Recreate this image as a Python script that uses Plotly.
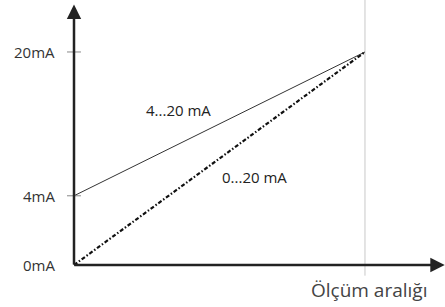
import plotly.graph_objects as go
import numpy as np

# --- data (schematic) ---
range_pct = [0, 100]                 # measurement range (x, %)
tick_labels = ["0mA", "4mA", "20mA"]
tick_mA = [0, 4, 20]
tick_pos = [0, 6.5, 20]              # schematic vertical positions of ticks
line_4_20_mA = [4, 20]
line_0_20_mA = [0, 20]
label_4_20 = "4...20 mA"
label_0_20 = "0...20 mA"
x_title = "Ölçüm aralığı"

def ypos(v):
    return list(np.interp(v, tick_mA, tick_pos))

FONT = "Open Sans"
fig = go.Figure()

# vertical grey line at end of range
fig.add_shape(type="line", x0=range_pct[1], x1=range_pct[1], y0=-1.0, y1=25,
              line=dict(color="#c8c8c8", width=1), layer="below")

fig.add_trace(go.Scatter(x=range_pct, y=ypos(line_4_20_mA), mode="lines",
                         line=dict(color="#333333", width=1), showlegend=False))
fig.add_trace(go.Scatter(x=range_pct, y=ypos(line_0_20_mA), mode="lines",
                         line=dict(color="#111111", width=2.2, dash="4px,2px,1.5px,2px"),
                         showlegend=False))

# axes with arrows
fig.add_annotation(x=0, y=24.45, ax=0, ay=-0.1, xref="x", yref="y", axref="x", ayref="y",
                   showarrow=True, arrowhead=2, arrowsize=1.15, arrowwidth=2.5,
                   arrowcolor="#222222", text="")
fig.add_annotation(x=127.4, y=0, ax=-0.4, ay=0, xref="x", yref="y", axref="x", ayref="y",
                   showarrow=True, arrowhead=2, arrowsize=1.15, arrowwidth=2.5,
                   arrowcolor="#222222", text="")

# ticks and tick labels
for lab, mA in zip(tick_labels, tick_mA):
    y = ypos([mA])[0]
    if mA > 0:
        fig.add_shape(type="line", x0=-2.4, x1=2.4, y0=y, y1=y,
                      line=dict(color="#888888", width=1))
    fig.add_annotation(x=-5.8, y=y, xref="x", yref="y", text=lab, showarrow=False,
                       xanchor="right", yanchor="middle",
                       font=dict(family=FONT, size=15, color="#333333"))

fig.add_annotation(x=36, y=14.6, text=label_4_20, showarrow=False,
                   font=dict(family=FONT, size=15, color="#222222"))
fig.add_annotation(x=62.2, y=8.3, text=label_0_20, showarrow=False,
                   font=dict(family=FONT, size=15, color="#222222"))
fig.add_annotation(x=101.5, y=-2.3, text=x_title, showarrow=False,
                   font=dict(family=FONT, size=19, color="#444444"))

fig.update_layout(width=445, height=307, margin=dict(l=0, r=0, t=0, b=0),
                  paper_bgcolor="white", plot_bgcolor="white",
                  xaxis=dict(range=[-25.43, 127.5], visible=False, fixedrange=True),
                  yaxis=dict(range=[-3.94, 24.88], visible=False, fixedrange=True))

fig.write_html("out.html", config={"displayModeBar": False},
               post_script="document.body.style.margin='0';")
